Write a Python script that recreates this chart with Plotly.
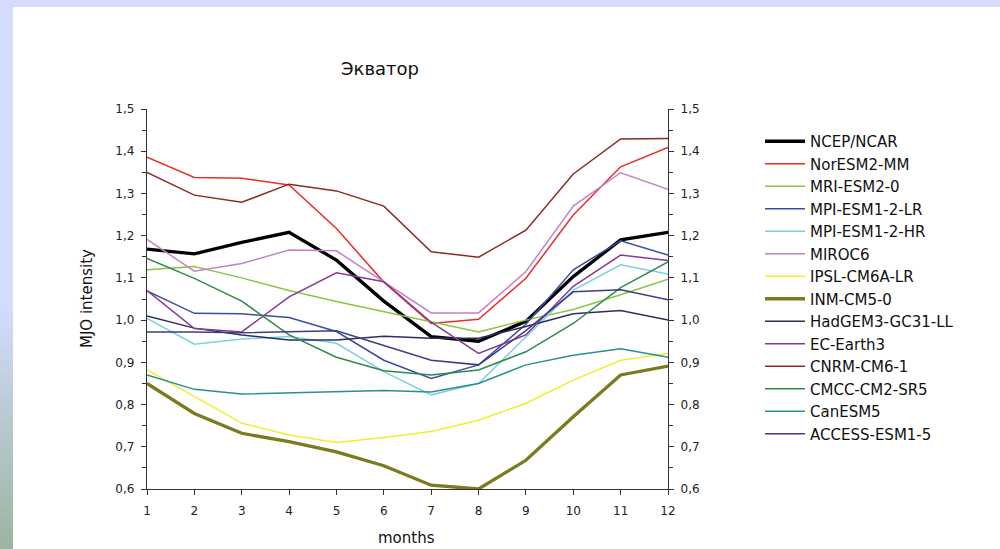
import plotly.graph_objects as go

months = list(range(1, 13))

ncep = [1.168, 1.157, 1.184, 1.208, 1.142, 1.045, 0.961, 0.950, 0.997, 1.103, 1.190, 1.208]
noresm = [1.386, 1.338, 1.336, 1.320, 1.217, 1.090, 0.992, 1.002, 1.099, 1.249, 1.363, 1.409]
mri = [1.119, 1.127, 1.100, 1.070, 1.044, 1.020, 0.997, 0.972, 1.000, 1.025, 1.060, 1.097]
mpi_lr = [1.069, 1.016, 1.015, 1.006, 0.973, 0.905, 0.862, 0.894, 0.990, 1.119, 1.188, 1.154]
mpi_hr = [1.004, 0.943, 0.955, 0.961, 0.945, 0.878, 0.823, 0.850, 0.960, 1.071, 1.131, 1.109]
miroc = [1.191, 1.116, 1.134, 1.166, 1.164, 1.090, 1.017, 1.017, 1.115, 1.270, 1.349, 1.310]
ipsl = [0.882, 0.819, 0.756, 0.728, 0.710, 0.722, 0.736, 0.763, 0.803, 0.858, 0.905, 0.921]
inm = [0.850, 0.779, 0.732, 0.712, 0.688, 0.655, 0.609, 0.600, 0.668, 0.771, 0.870, 0.891]
hadgem = [1.010, 0.981, 0.965, 0.953, 0.953, 0.962, 0.957, 0.957, 0.985, 1.015, 1.023, 1.000]
ec_earth = [1.070, 0.980, 0.972, 1.055, 1.112, 1.091, 0.995, 0.921, 0.965, 1.080, 1.154, 1.141]
cnrm = [1.350, 1.296, 1.279, 1.322, 1.306, 1.270, 1.162, 1.149, 1.213, 1.346, 1.429, 1.430]
cmcc = [1.146, 1.099, 1.045, 0.965, 0.912, 0.880, 0.870, 0.882, 0.925, 0.992, 1.077, 1.138]
canesm = [0.870, 0.836, 0.825, 0.828, 0.830, 0.833, 0.830, 0.850, 0.894, 0.917, 0.932, 0.912]
access = [0.972, 0.972, 0.970, 0.972, 0.975, 0.940, 0.905, 0.894, 0.975, 1.067, 1.072, 1.048]

y_ticks = [0.6, 0.7, 0.8, 0.9, 1.0, 1.1, 1.2, 1.3, 1.4, 1.5]

series = [
    ("NCEP/NCAR", ncep, "#000000", 3.3),
    ("NorESM2-MM", noresm, "#ec2d27", 1.5),
    ("MRI-ESM2-0", mri, "#8cc540", 1.5),
    ("MPI-ESM1-2-LR", mpi_lr, "#3b4ea0", 1.5),
    ("MPI-ESM1-2-HR", mpi_hr, "#7fcfe2", 1.5),
    ("MIROC6", miroc, "#c283c9", 1.5),
    ("IPSL-CM6A-LR", ipsl, "#f0ee2c", 1.5),
    ("INM-CM5-0", inm, "#7b7a1f", 3.3),
    ("HadGEM3-GC31-LL", hadgem, "#2d2d5e", 1.5),
    ("EC-Earth3", ec_earth, "#863a96", 1.5),
    ("CNRM-CM6-1", cnrm, "#8a2b20", 1.5),
    ("CMCC-CM2-SR5", cmcc, "#2f8a48", 1.5),
    ("CanESM5", canesm, "#26918f", 1.5),
    ("ACCESS-ESM1-5", access, "#3d3d88", 1.5),
]

fig = go.Figure()
for name, vals, color, w in series:
    fig.add_trace(go.Scatter(
        x=months, y=vals, mode="lines", name=name,
        line=dict(color=color, width=w), legendgroup=name,
    ))
fig.add_trace(go.Scatter(
    x=[months[0]], y=[y_ticks[0]], yaxis="y2", mode="markers",
    marker=dict(opacity=0), showlegend=False, hoverinfo="skip",
))

# pixel -> paper helpers (plot area: x 147..668, y 109..489)
L, R, T, B = 147, 668, 109, 489
def px(xp):
    return (xp - L) / (R - L)
def py(yp):
    return (B - yp) / (B - T)

shapes = [
    dict(type="rect", xref="paper", yref="paper", x0=px(13), x1=px(1000),
         y0=py(549), y1=py(7), fillcolor="white", line=dict(width=0), layer="below"),
]
# left gradient strip
top_c = (212, 220, 253)
bot_c = (155, 180, 160)
g0, g1 = 305, 549
n = 40
for i in range(n):
    y0p = g0 + (g1 - g0) * i / n
    y1p = g0 + (g1 - g0) * (i + 1) / n
    t = (i + 0.5) / n
    c = tuple(int(round(top_c[k] + (bot_c[k] - top_c[k]) * t)) for k in range(3))
    shapes.append(dict(type="rect", xref="paper", yref="paper", x0=px(0), x1=px(13),
                       y0=py(y1p + 0.5), y1=py(y0p), fillcolor="rgb(%d,%d,%d)" % c,
                       line=dict(width=0), layer="below"))

font_family = "DejaVu Sans, Liberation Sans, Arial, sans-serif"
axis_common = dict(
    showline=True, linecolor="#333333", linewidth=1.3, showgrid=False, zeroline=False,
    ticks="outside", ticklen=5, tickwidth=1, tickcolor="#333333",
    tickfont=dict(size=12, color="#222222", family=font_family),
)
minor_ticks = dict(ticks="outside", dtick=0.05, tick0=0.6, ticklen=4, tickcolor="#333333")

fig.update_layout(
    width=1000, height=549,
    margin=dict(l=L, r=1000 - R, t=T, b=549 - B, pad=0),
    paper_bgcolor="#d4dcfd",
    plot_bgcolor="white",
    separators=", ",
    font=dict(family=font_family, color="#222222"),
    shapes=shapes,
    xaxis=dict(range=[1, 12], tickvals=months, ticklabelstandoff=5, **axis_common),
    yaxis=dict(range=[0.6, 1.5], tickvals=y_ticks, tickformat=".1f", ticklabelstandoff=4,
               minor=minor_ticks, **axis_common),
    yaxis2=dict(range=[0.6, 1.5], tickvals=y_ticks, tickformat=".1f", overlaying="y", side="right",
                ticklabelstandoff=4, minor=minor_ticks, **axis_common),
    showlegend=True,
    legend=dict(
        x=px(760), y=py(125), xanchor="left", yanchor="top",
        bgcolor="rgba(0,0,0,0)", font=dict(size=15, color="#111111", family=font_family),
        itemwidth=40, tracegroupgap=3.3, traceorder="normal",
    ),
    annotations=[
        dict(text="Экватор", x=px(380), y=py(69), xref="paper", yref="paper",
             showarrow=False, font=dict(size=18, color="#111111"), xanchor="center", yanchor="middle"),
        dict(text="MJO intensity", x=px(87), y=py(299), xref="paper", yref="paper",
             showarrow=False, textangle=-90, font=dict(size=15, color="#111111"),
             xanchor="center", yanchor="middle"),
        dict(text="months", x=px(406), y=py(538), xref="paper", yref="paper",
             showarrow=False, font=dict(size=15, color="#111111"), xanchor="center", yanchor="middle"),
    ],
)

fig.write_html("out.html")
